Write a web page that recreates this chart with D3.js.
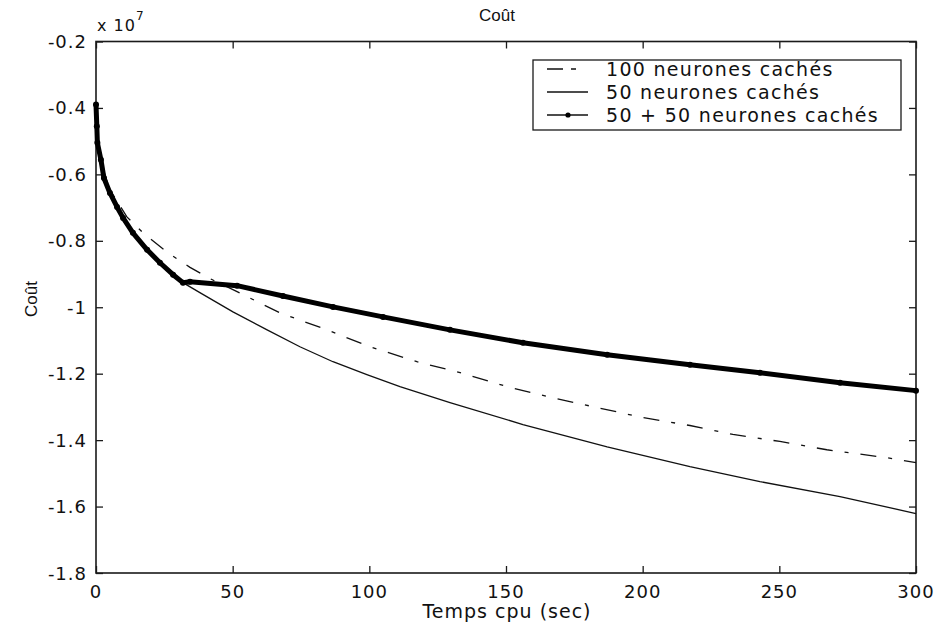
<!DOCTYPE html>
<html>
<head>
<meta charset="utf-8">
<script src="https://cdn.jsdelivr.net/npm/d3@7"></script>
<style>
  body { margin: 0; background: #fff; }
  svg { display: block; }
  .tick-lbl { font-family: "DejaVu Sans", sans-serif; font-size: 18px; letter-spacing: 1px; fill: #111; }
  .narrow { font-family: "Liberation Sans Narrow", "Liberation Sans", sans-serif; font-size: 17px; fill: #111; }
</style>
</head>
<body>
<div id="chart"></div>
<script>
// Temps cpu (sec) and coût (x 1e7) for each run
const time100 = [0, 0.5, 2, 5, 11.3, 17.2, 26.3, 34.4, 42, 51.6, 67.3, 84.5, 100.2, 117.4, 133.2, 150.4, 166.8, 183.3, 200.1, 217.3, 233, 250.2, 267.4, 289.4, 300];
const cost100 = [-0.45, -0.52, -0.57, -0.645, -0.728, -0.776, -0.836, -0.88, -0.915, -0.953, -1.017, -1.068, -1.119, -1.164, -1.197, -1.239, -1.272, -1.302, -1.332, -1.356, -1.383, -1.404, -1.429, -1.453, -1.468];

const time50 = [0, 0.4, 1.8, 2.9, 5.1, 7.7, 9.9, 13.5, 18.7, 23.4, 28.2, 31.8, 38, 50.1, 62.6, 74.6, 86.7, 99.1, 111.2, 129.5, 156.2, 187, 217.3, 242.9, 272.2, 300];
const cost50 = [-0.45, -0.505, -0.556, -0.611, -0.656, -0.698, -0.731, -0.776, -0.827, -0.866, -0.902, -0.926, -0.956, -1.014, -1.068, -1.119, -1.164, -1.203, -1.239, -1.287, -1.353, -1.42, -1.48, -1.525, -1.57, -1.621];

const time5050 = [0, 0.3, 0.5, 1.8, 2.9, 5.1, 7.7, 9.9, 13.5, 18.7, 23.4, 28.2, 31.8, 34.4, 51.6, 68.4, 86.7, 105, 129.5, 156.2, 187, 217.3, 242.9, 272.2, 300];
const cost5050 = [-0.39, -0.455, -0.505, -0.556, -0.611, -0.656, -0.698, -0.731, -0.776, -0.827, -0.866, -0.902, -0.926, -0.923, -0.935, -0.966, -0.999, -1.029, -1.068, -1.107, -1.143, -1.173, -1.197, -1.227, -1.251];

const xTicks = [0, 50, 100, 150, 200, 250, 300];
const yTicks = [-0.2, -0.4, -0.6, -0.8, -1, -1.2, -1.4, -1.6, -1.8];
const legendLabels = ["100 neurones cachés", "50 neurones cachés", "50 + 50 neurones cachés"];

const W = 937, H = 630;
const plot = { left: 96, right: 916, top: 41.5, bottom: 573 };

const svg = d3.select("#chart").append("svg")
    .attr("width", W).attr("height", H);
svg.append("rect").attr("width", W).attr("height", H).attr("fill", "#fff");

const x = d3.scaleLinear().domain([0, 300]).range([plot.left, plot.right]);
const y = d3.scaleLinear().domain([-1.8, -0.2]).range([plot.bottom, plot.top]);
const fmt = d => String(+d.toFixed(1));

// box with inward ticks on all four sides
const axColor = "#1a1a1a";
const tickLen = 7;
function styleAxis(g) {
    g.select(".domain").remove();
    g.selectAll(".tick line").attr("stroke", axColor).attr("stroke-width", 1.3);
}
svg.append("g").attr("transform", `translate(0,${plot.bottom})`)
    .call(d3.axisBottom(x).tickValues(xTicks).tickSize(-tickLen).tickFormat(""))
    .call(styleAxis);
svg.append("g").attr("transform", `translate(0,${plot.top})`)
    .call(d3.axisTop(x).tickValues(xTicks).tickSize(-tickLen).tickFormat(""))
    .call(styleAxis);
svg.append("g").attr("transform", `translate(${plot.left},0)`)
    .call(d3.axisLeft(y).tickValues(yTicks).tickSize(-tickLen).tickFormat(""))
    .call(styleAxis);
svg.append("g").attr("transform", `translate(${plot.right},0)`)
    .call(d3.axisRight(y).tickValues(yTicks).tickSize(-tickLen).tickFormat(""))
    .call(styleAxis);

svg.append("rect")
    .attr("x", plot.left).attr("y", plot.top)
    .attr("width", plot.right - plot.left).attr("height", plot.bottom - plot.top)
    .attr("fill", "none").attr("stroke", axColor).attr("stroke-width", 1.6);

// tick labels
svg.append("g").selectAll("text").data(xTicks).join("text")
    .attr("class", "tick-lbl")
    .attr("x", d => x(d)).attr("y", 598)
    .attr("text-anchor", "middle")
    .text(d => d);
svg.append("g").selectAll("text").data(yTicks).join("text")
    .attr("class", "tick-lbl")
    .attr("x", 87).attr("y", d => y(d) + 6.5)
    .attr("text-anchor", "end")
    .text(fmt);

// exponent label
const expo = svg.append("text").attr("class", "tick-lbl").attr("x", 97).attr("y", 31).style("font-size", "16px");
expo.append("tspan").text("x 10");
expo.append("tspan").attr("dy", -11).style("font-size", "12px").text("7");

// titles
svg.append("text").attr("class", "narrow")
    .attr("x", 497).attr("y", 21).attr("text-anchor", "middle").text("Coût");
svg.append("text").attr("class", "tick-lbl")
    .attr("x", 507).attr("y", 618).attr("text-anchor", "middle")
    .style("font-size", "19px").text("Temps cpu (sec)");
svg.append("text").attr("class", "narrow")
    .attr("transform", "translate(37,299) rotate(-90)")
    .attr("text-anchor", "middle").text("Coût");

// curves
const line = d3.line().x(d => x(d[0])).y(d => y(d[1]));
const pts100 = d3.zip(time100, cost100);
const pts50 = d3.zip(time50, cost50);
const pts5050 = d3.zip(time5050, cost5050);

svg.append("path").datum(pts100).attr("d", line)
    .attr("fill", "none").attr("stroke", "#111").attr("stroke-width", 1.3)
    .attr("stroke-dasharray", "16,12,4,12");
svg.append("path").datum(pts50).attr("d", line)
    .attr("fill", "none").attr("stroke", "#111").attr("stroke-width", 1.3);
svg.append("path").datum(pts5050).attr("d", line)
    .attr("fill", "none").attr("stroke", "#000").attr("stroke-width", 5)
    .attr("stroke-linejoin", "round");
svg.append("g").selectAll("circle").data(pts5050).join("circle")
    .attr("cx", d => x(d[0])).attr("cy", d => y(d[1])).attr("r", 3).attr("fill", "#000");

// legend
const lg = svg.append("g");
lg.append("rect").attr("x", 533).attr("y", 60).attr("width", 368).attr("height", 70)
    .attr("fill", "#fff").attr("stroke", axColor).attr("stroke-width", 1.3);
const rowY = [69, 92, 115];
const styles = [
    { dash: "16,8,5,40", w: 1.3, dot: false },
    { dash: null, w: 1.3, dot: false },
    { dash: null, w: 1.6, dot: true }
];
legendLabels.forEach((lbl, i) => {
    const ly = rowY[i];
    lg.append("line").attr("x1", 547).attr("x2", 588).attr("y1", ly).attr("y2", ly)
        .attr("stroke", "#111").attr("stroke-width", styles[i].w)
        .attr("stroke-dasharray", styles[i].dash);
    if (styles[i].dot) {
        lg.append("circle").attr("cx", 568).attr("cy", ly).attr("r", 2.6).attr("fill", "#000");
    }
    lg.append("text").attr("class", "tick-lbl").attr("x", 606).attr("y", ly + 7)
        .style("font-size", "19px").style("letter-spacing", "1.3px").text(lbl);
});
</script>
</body>
</html>
